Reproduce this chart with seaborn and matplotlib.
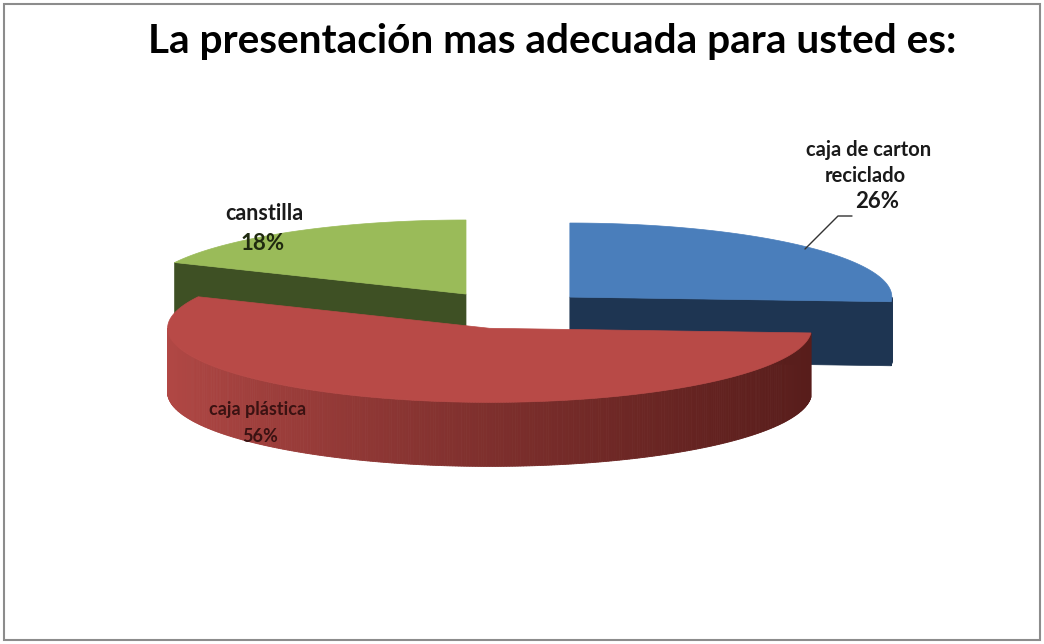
import numpy as np
import matplotlib
matplotlib.use("Agg")
import matplotlib.pyplot as plt
from matplotlib.patches import Polygon, Rectangle
from matplotlib.colors import to_rgb
import seaborn as sns

# --- data -------------------------------------------------------------
categories = ["caja de carton\nreciclado", "caja plástica", "canstilla"]
shares = [26, 56, 18]
top_colors = ["#4A7EBB", "#B84A47", "#9ABB59"]
side_colors = ["#1E3552", "#581D1B", "#3E5024"]
side_light = ["#2A4A73", "#B24845", "#56702F"]
title = "La presentación mas adecuada para usted es:"

sns.set_theme(style="white")
plt.rcParams["font.family"] = ["Lato", "DejaVu Sans"]

W, H = 1044, 644
fig = plt.figure(figsize=(W / 100, H / 100), dpi=100)
ax = fig.add_axes([0, 0, 1, 1])

# pie geometry (radius = 1)
TILT = 0.23
DEPTH = 0.199
EXPLODE = 0.255
CX_PX, CY_PX, R_PX = 510, 310, 322
ax.set_xlim(-CX_PX / R_PX, (W - CX_PX) / R_PX)
ax.set_ylim(-(H - CY_PX) / R_PX, CY_PX / R_PX)
ax.set_aspect("equal")
ax.axis("off")


def px(x, y):
    """pixel position -> data coordinates"""
    return (x - CX_PX) / R_PX, (CY_PX - y) / R_PX


def rim(ox, oy, ang, dz=0.0):
    a = np.radians(ang)
    return np.column_stack([ox + np.cos(a), oy + TILT * np.sin(a) - dz])


total = float(sum(shares))
cum = np.concatenate([[0], np.cumsum(shares)])
slices = []
for i, v in enumerate(shares):
    a0 = 90 - 360 * cum[i] / total
    a1 = 90 - 360 * cum[i + 1] / total
    mid = np.radians((a0 + a1) / 2)
    ox, oy = EXPLODE * np.cos(mid), EXPLODE * TILT * np.sin(mid)
    slices.append((i, a0, a1, ox, oy))

# back slices first
for i, a0, a1, ox, oy in sorted(slices, key=lambda s: -s[4]):
    c = np.array([ox, oy])
    # radial walls
    for ang, vis in ((a0, np.cos(np.radians(a0)) < -1e-6),
                     (a1, np.cos(np.radians(a1)) > 1e-6)):
        if vis:
            p = rim(ox, oy, [ang])[0]
            quad = [c, p, p - [0, DEPTH], c - [0, DEPTH]]
            ax.add_patch(Polygon(quad, closed=True, facecolor=side_colors[i],
                                 edgecolor=side_colors[i], lw=0.5, zorder=2))
    # curved outer wall, front half only, shaded left -> right
    lo, hi = min(a0, a1), max(a0, a1)
    angs = np.linspace(lo, hi, 400)
    s = np.sin(np.radians(angs))
    angs = angs[s < 0]
    if len(angs) > 1:
        cl, cd = np.array(to_rgb(side_light[i])), np.array(to_rgb(side_colors[i]))
        for a_l, a_r in zip(angs[:-1], angs[1:]):
            t = (np.cos(np.radians((a_l + a_r) / 2)) + 1) / 2
            t = np.clip(t ** 0.8, 0, 1)
            col = cl * (1 - t) + cd * t
            top = rim(ox, oy, [a_l, a_r])
            bot = rim(ox, oy, [a_r, a_l], DEPTH)
            ax.add_patch(Polygon(np.vstack([top, bot]), closed=True,
                                 facecolor=col, edgecolor=col, lw=0.6, zorder=2))
    # top face
    arc = rim(ox, oy, np.linspace(a0, a1, 200))
    face = np.vstack([[c], arc])
    ax.add_patch(Polygon(face, closed=True, facecolor=top_colors[i],
                         edgecolor=top_colors[i], lw=0.5, zorder=3))

# labels
pct = [f"{v}%" for v in shares]
big = dict(fontsize=14.5, fontweight="bold", color="#1a1a1a",
           ha="center", va="center", zorder=5)
ax.text(*px(869, 150), "caja de carton", **big)
ax.text(*px(865, 176), "reciclado", **big)
ax.text(*px(877, 201), pct[0], **{**big, "fontsize": 16})
ax.plot(*zip(px(805, 249), px(838, 216), px(852, 216)), color="#333333", lw=1, zorder=5)

ax.text(*px(264, 214), categories[2], **{**big, "fontsize": 15.5})
ax.text(*px(263, 243), pct[2], **{**big, "fontsize": 16, "color": "#202a10"})

small = dict(fontsize=13, fontweight="bold", color="#3a1212",
             ha="center", va="center", zorder=5)
ax.text(*px(258, 409), categories[1], **small)
ax.text(*px(260, 436), pct[1], **small)

# title
fig.text(552 / W, 1 - 42 / H, title, fontsize=29.2, fontweight="bold",
         ha="center", va="center", color="black")

# chart frame
fig.add_artist(Rectangle((4 / W, 4 / H), (W - 8) / W, (H - 8) / H,
                         transform=fig.transFigure, fill=False,
                         edgecolor="#8c8c8c", lw=1.5))

fig.savefig("out.png", dpi=100, facecolor="white")
